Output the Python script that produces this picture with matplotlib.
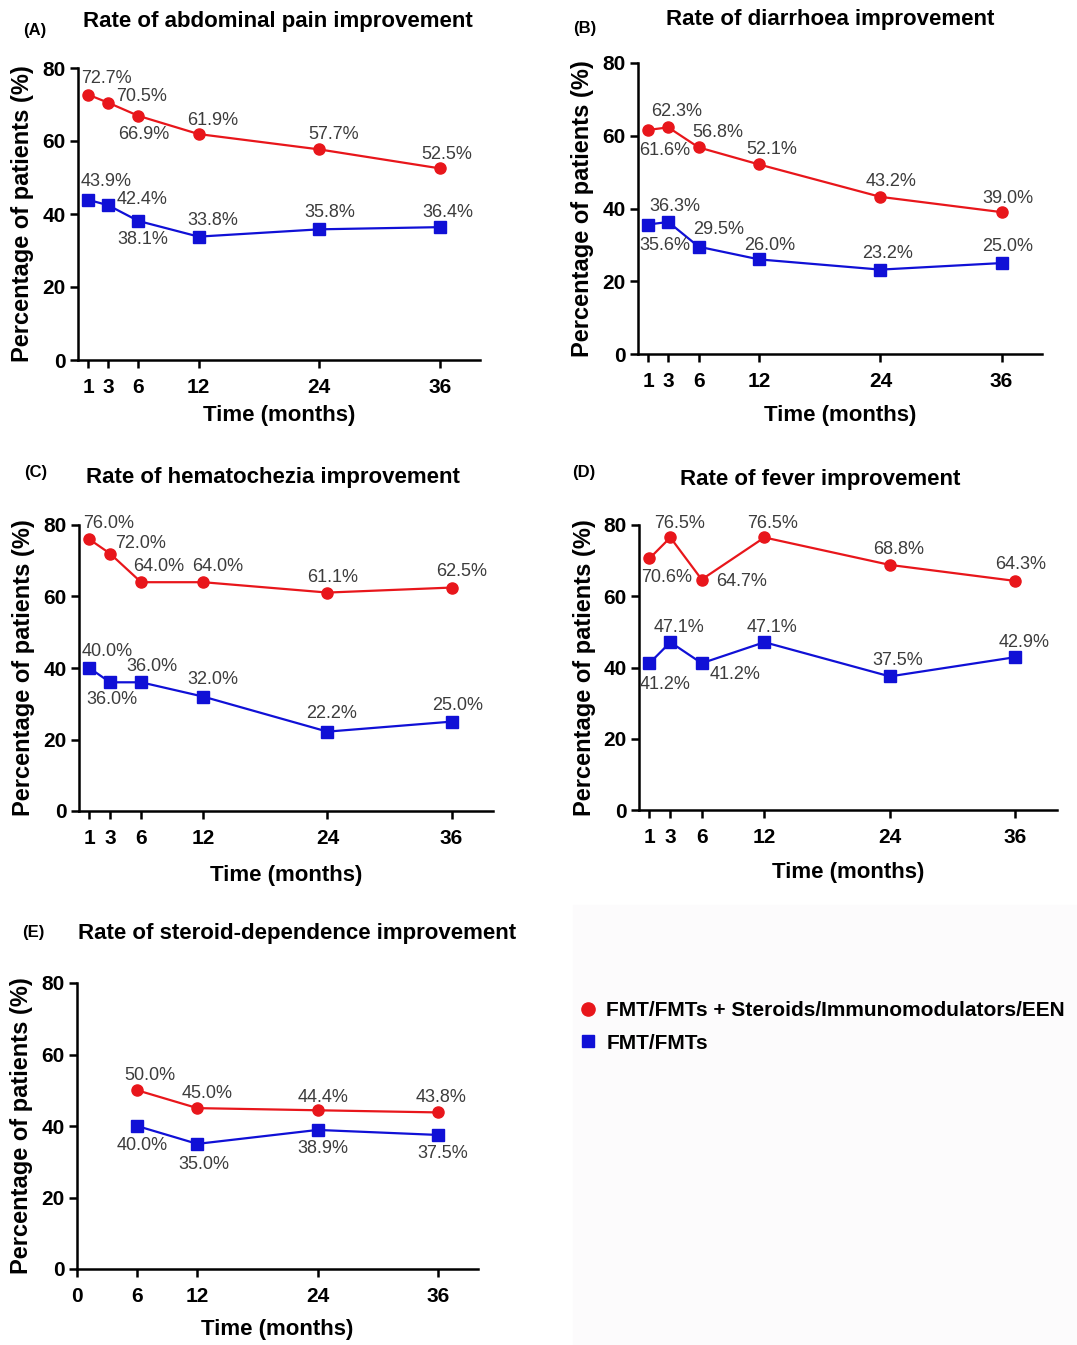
import matplotlib.pyplot as plt
from matplotlib.lines import Line2D
from matplotlib.patches import Rectangle

plt.rcParams['font.family'] = ['Liberation Sans', 'DejaVu Sans']

W, H = 1077, 1345

# time points (months)
months = [1, 3, 6, 12, 24, 36]
months_e = [6, 12, 24, 36]

# percentage of patients improved
pain_combo = [72.7, 70.5, 66.9, 61.9, 57.7, 52.5]
pain_fmt = [43.9, 42.4, 38.1, 33.8, 35.8, 36.4]
diarr_combo = [61.6, 62.3, 56.8, 52.1, 43.2, 39.0]
diarr_fmt = [35.6, 36.3, 29.5, 26.0, 23.2, 25.0]
hema_combo = [76.0, 72.0, 64.0, 64.0, 61.1, 62.5]
hema_fmt = [40.0, 36.0, 36.0, 32.0, 22.2, 25.0]
fever_combo = [70.6, 76.5, 64.7, 76.5, 68.8, 64.3]
fever_fmt = [41.2, 47.1, 41.2, 47.1, 37.5, 42.9]
steroid_combo = [50.0, 45.0, 44.4, 43.8]
steroid_fmt = [40.0, 35.0, 38.9, 37.5]

combo_name = 'FMT/FMTs + Steroids/Immunomodulators/EEN'
fmt_name = 'FMT/FMTs'

RED = '#e8161b'
BLUE = '#1010d6'
LABEL_GRAY = '#3c3c3c'

fig = plt.figure(figsize=(W / 100, H / 100), dpi=100)
fig.patch.set_facecolor('white')

# very faint panel behind the legend
fig.add_artist(Rectangle((573 / W, 0), 1 - 573 / W, 1 - 905 / H,
                         transform=fig.transFigure, color='#fcfbfc', zorder=0))


def panel(box, x, combo, fmt, xticks, combo_off, fmt_off,
          title, title_xy, tag, tag_xy, xlab_gap):
    l, t, r, b = box
    ax = fig.add_axes([l / W, 1 - b / H, (r - l) / W, (b - t) / H])
    ax.plot(x, combo, color=RED, marker='o', ms=8, lw=1.6, clip_on=False, zorder=3)
    ax.plot(x, fmt, color=BLUE, marker='s', ms=8.5, lw=1.6, clip_on=False, zorder=3)
    for vals, offs in ((combo, combo_off), (fmt, fmt_off)):
        for xi, yi, (dx, dy) in zip(x, vals, offs):
            ax.annotate(f'{yi:.1f}%', (xi, yi), xytext=(dx, dy),
                        textcoords='offset pixels', ha='center', va='center',
                        fontsize=13, color=LABEL_GRAY)
    ax.set_xlim(0, 40)
    ax.set_ylim(0, 80)
    ax.set_xticks(xticks)
    ax.set_yticks([0, 20, 40, 60, 80])
    ax.spines['top'].set_visible(False)
    ax.spines['right'].set_visible(False)
    ax.spines['left'].set_linewidth(1.8)
    ax.spines['bottom'].set_linewidth(1.8)
    ax.tick_params(width=1.8, length=6, labelsize=15)
    ax.tick_params(axis='x', pad=7)
    ax.tick_params(axis='y', pad=3)
    for lab in ax.get_xticklabels() + ax.get_yticklabels():
        lab.set_fontweight('bold')
    ax.set_xlabel('Time (months)', fontsize=16, fontweight='bold')
    ax.set_ylabel('Percentage of patients (%)', fontsize=17, fontweight='bold')
    ax.xaxis.set_label_coords(0.5, -xlab_gap / (b - t))
    ax.xaxis.label.set_va('center')
    ax.yaxis.set_label_coords(-55 / (r - l), 0.5)
    ax.yaxis.label.set_va('center')
    fig.text(title_xy[0] / W, 1 - title_xy[1] / H, title, ha='center', va='center',
             fontsize=16, fontweight='bold')
    fig.text(tag_xy[0] / W, 1 - tag_xy[1] / H, tag, ha='center', va='center',
             fontsize=12, fontweight='bold')
    return ax


panel((78, 68, 480, 360), months, pain_combo, pain_fmt, months,
      [(18, 16), (33, 6), (5, -19), (14, 14), (14, 15), (7, 14)],
      [(18, 18), (34, 6), (4, -19), (14, 16), (11, 17), (8, 15)],
      'Rate of abdominal pain improvement', (278, 21), '(A)', (35, 31), 55)

panel((638, 63, 1042, 354), months, diarr_combo, diarr_fmt, months,
      [(17, -21), (8, 16), (19, 15), (13, 15), (11, 15), (6, 14)],
      [(17, -21), (7, 15), (20, 17), (10, 14), (7, 16), (6, 17)],
      'Rate of diarrhoea improvement', (830, 20), '(B)', (585, 29), 61)

panel((79, 525, 493, 811), months, hema_combo, hema_fmt, months,
      [(19, 16), (31, 10), (18, 16), (14, 16), (5, 15), (10, 16)],
      [(18, 16), (2, -17), (11, 16), (10, 17), (4, 18), (6, 16)],
      'Rate of hematochezia improvement', (273, 477), '(C)', (36, 473), 64)

panel((639, 525, 1057, 810), months, fever_combo, fever_fmt, months,
      [(17, -19), (9, 14), (40, -2), (8, 14), (9, 15), (5, 16)],
      [(16, -21), (9, 15), (33, -11), (8, 15), (8, 16), (9, 15)],
      'Rate of fever improvement', (820, 480), '(D)', (584, 473), 62)

panel((77, 983, 478, 1269), months_e, steroid_combo, steroid_fmt, [0, 6, 12, 24, 36],
      [(13, 15), (10, 15), (5, 13), (3, 15)],
      [(5, -19), (7, -21), (5, -19), (5, -19)],
      'Rate of steroid-dependence improvement', (297, 933), '(E)', (33, 933), 61)

handles = [Line2D([], [], marker='o', color=RED, ls='none', ms=9.5),
           Line2D([], [], marker='s', color=BLUE, ls='none', ms=9)]
fig.legend(handles, [combo_name, fmt_name], loc='center left',
           bbox_to_anchor=(578 / W, 1 - 1027 / H), frameon=False,
           prop={'weight': 'bold', 'size': 15}, handlelength=1.0,
           handletextpad=0.35, labelspacing=0.65, borderpad=0, borderaxespad=0)

fig.savefig('out.png', dpi=100)
